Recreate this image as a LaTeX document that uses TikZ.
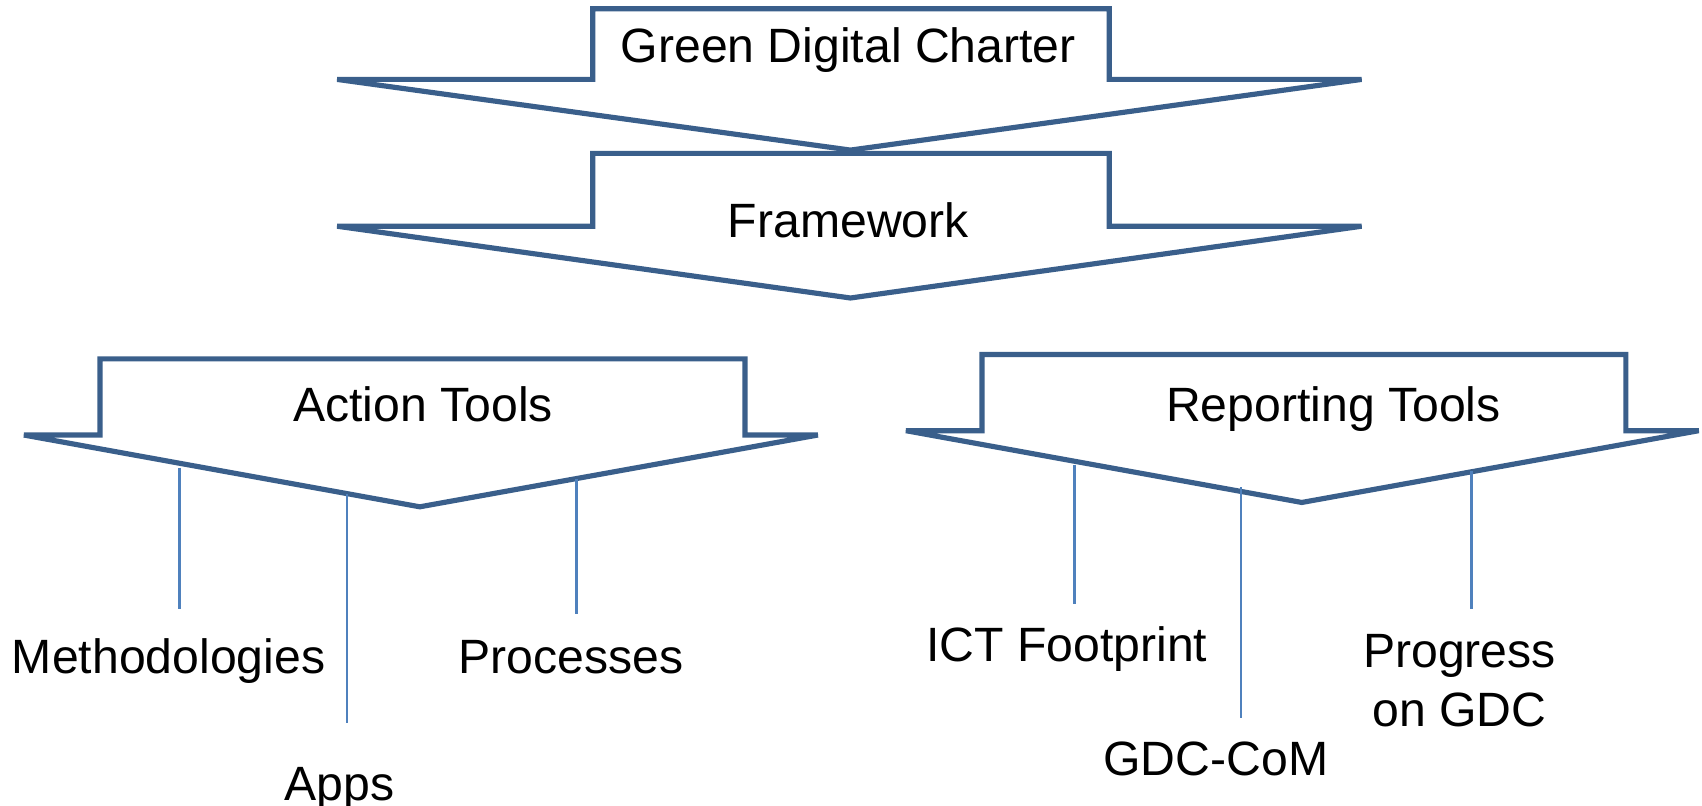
\documentclass[tikz,border=0pt]{standalone}
\usepackage{fontspec}
\setmainfont{Liberation Sans}
\usetikzlibrary{calc}
\definecolor{arrowblue}{RGB}{58,95,139}
\definecolor{stemblue}{RGB}{79,129,189}

\begin{document}
\begin{tikzpicture}[
    bigarrow/.style={draw=arrowblue, line width=1.35pt, fill=white, line join=miter},
    stem/.style={draw=stemblue, line width=0.6pt},
    lbl/.style={font=\fontsize{12.6}{15.4}\selectfont, inner sep=0pt, anchor=base, align=center}]
            \useasboundingbox (0,0) rectangle (15.65,-7.41);

            % block arrows
            \draw[bigarrow] (5.45,-0.08) -- (10.20,-0.08) -- (10.20,-0.73) -- (12.52,-0.73)
                -- (7.82,-1.38) -- (3.10,-0.73) -- (5.45,-0.73) -- cycle;
            \draw[bigarrow] (5.45,-1.41) -- (10.20,-1.41) -- (10.20,-2.08) -- (12.52,-2.08)
                -- (7.82,-2.74) -- (3.10,-2.08) -- (5.45,-2.08) -- cycle;
            \draw[bigarrow] (0.92,-3.30) -- (6.85,-3.30) -- (6.85,-4.00) -- (7.52,-4.00)
                -- (3.86,-4.66) -- (0.22,-4.00) -- (0.92,-4.00) -- cycle;
            \draw[bigarrow] (9.03,-3.26) -- (14.95,-3.26) -- (14.95,-3.96) -- (15.62,-3.96)
                -- (11.97,-4.62) -- (8.33,-3.96) -- (9.03,-3.96) -- cycle;

            \node[lbl] (gdc) at (7.80,-0.57){Green Digital Charter};
            \node[lbl] (frame) at (7.80,-2.18){Framework};
            \node[lbl] (act) at (3.89,-3.88){Action Tools};
            \node[lbl] (rep) at (12.26,-3.88){Reporting Tools};

            % tool labels
            \node[lbl] (meth) at (1.55,-6.19){Methodologies};
            \node[lbl] (apps) at (3.12,-7.36){Apps};
            \node[lbl] (proc) at (5.25,-6.19){Processes};
            \node[lbl] (ict) at (9.81,-6.08){ICT Footprint};
            \node[lbl] (com) at (11.18,-7.13){GDC-CoM};
            \node[lbl] (prog) at (13.42,-6.68){Progress\\on GDC};

            \coordinate (m-top) at (1.65,-4.30);
            \coordinate (m-end) at (1.65,-5.60);
            \coordinate (a-top) at (3.19,-4.54);
            \coordinate (a-end) at (3.19,-6.65);
            \coordinate (p-top) at (5.30,-4.40);
            \coordinate (p-end) at (5.30,-5.65);
            \coordinate (i-top) at (9.88,-4.28);
            \coordinate (i-end) at (9.88,-5.55);
            \coordinate (c-top) at (11.41,-4.48);
            \coordinate (c-end) at (11.41,-6.60);
            \coordinate (g-top) at (13.53,-4.33);
            \coordinate (g-end) at (13.53,-5.60);

            \draw[stem] (m-top) -- (m-end);
            \draw[stem] (a-top) -- (a-end);
            \draw[stem] (p-top) -- (p-end);
            \draw[stem] (i-top) -- (i-end);
            \draw[stem] (c-top) -- (c-end);
            \draw[stem] (g-top) -- (g-end);
\end{tikzpicture}
\end{document}
